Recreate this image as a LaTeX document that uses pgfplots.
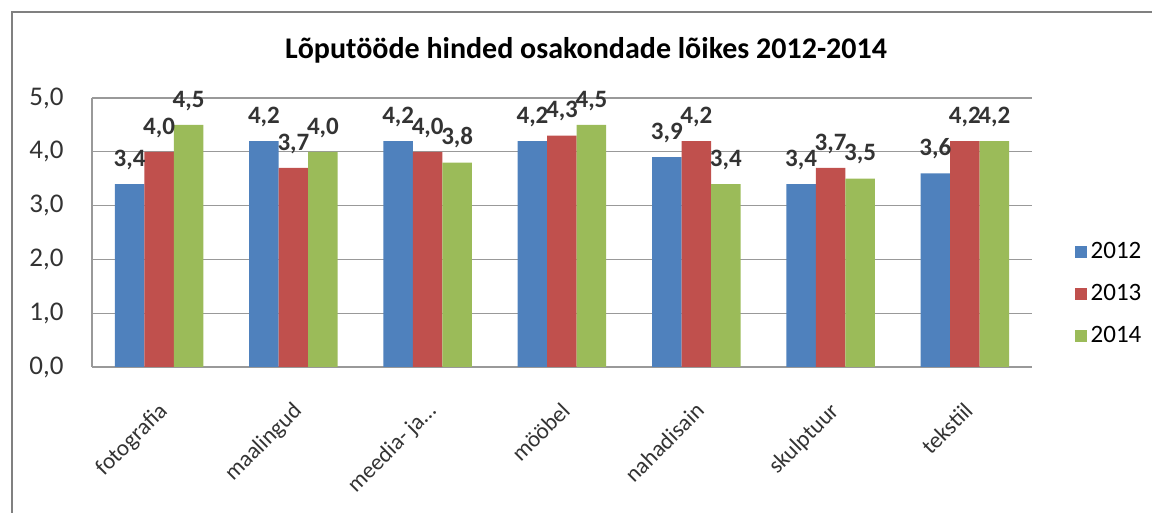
\documentclass[border=0pt]{standalone}
\usepackage{fontspec}
\setmainfont{Carlito}
\usepackage{pgfplots}
\pgfplotsset{compat=1.18}
\definecolor{c12}{HTML}{4F81BD}
\definecolor{c13}{HTML}{C0504D}
\definecolor{c14}{HTML}{9BBB59}
\pgfplotsset{sqlegend/.style={legend image code/.code={\fill[##1,draw=none] (0pt,-3pt) rectangle (6pt,3pt);}}}
\begin{document}
\begin{tikzpicture}
\path[use as bounding box] (0,0) rectangle (576pt,256.5pt);
\begin{scope}
\clip (0,0) rectangle (576pt,256.5pt);
\draw[black!50, line width=1pt] (6pt,-20pt) rectangle (620pt,250.5pt);
\end{scope}
\begin{axis}[
  at={(46pt,73pt)}, anchor=south west,
  scale only axis, width=470pt, height=134.5pt,
  /pgf/number format/assume math mode=true,
  ybar=0pt, bar width=14.75pt,
  xmin=-0.5, xmax=6.5, ymin=0, ymax=5,
  xtick={0,1,2,3,4,5,6},
  xticklabels={fotografia,maalingud,{meedia- ja\ldots},mööbel,nahadisain,skulptuur,tekstiil},
  ytick={0,1,2,3,4,5},
  yticklabel={\pgfmathprintnumber[fixed,fixed zerofill,precision=1,use comma]{\tick}},
  tick style={draw=none},
  ymajorgrids, grid style={black!40, line width=0.6pt},
  axis x line*=bottom, axis y line*=left,
  axis line style={black!40, line width=0.6pt},
  yticklabel style={font=\fontsize{13.5}{13.5}\selectfont, text=black!80, inner sep=0pt, anchor=east, xshift=-14pt},
  xticklabel style={font=\fontsize{11.5}{11.5}\selectfont, text=black!80, xshift=-1pt, yshift=-12.5pt, rotate=45, anchor=north east, inner sep=0pt},
  title={Lõputööde hinded osakondade lõikes 2012-2014},
  title style={font=\bfseries\fontsize{15}{15}\selectfont, at={(0.5255,1.134)}, anchor=center, inner sep=0pt},
  nodes near coords={\pgfmathprintnumber[fixed,fixed zerofill,precision=1,use comma]{\pgfplotspointmeta}},
  every node near coord/.append style={font=\bfseries\fontsize{12.5}{12.5}\selectfont, text=black!80, inner sep=0pt, yshift=7pt},
  legend style={at={(1.045,0.271)}, anchor=west, draw=none, fill=none, font=\fontsize{12.5}{12.5}\selectfont, row sep=7.5pt, inner sep=0pt, legend cell align=left},
]
\addplot[fill=c12, draw=none, sqlegend] coordinates {(0,3.4) (1,4.2) (2,4.2) (3,4.2) (4,3.9) (5,3.4) (6,3.6)};
\addplot[fill=c13, draw=none, sqlegend] coordinates {(0,4.0) (1,3.7) (2,4.0) (3,4.3) (4,4.2) (5,3.7) (6,4.2)};
\addplot[fill=c14, draw=none, sqlegend] coordinates {(0,4.5) (1,4.0) (2,3.8) (3,4.5) (4,3.4) (5,3.5) (6,4.2)};
\legend{2012,2013,2014}
\end{axis}
\end{tikzpicture}
\end{document}
